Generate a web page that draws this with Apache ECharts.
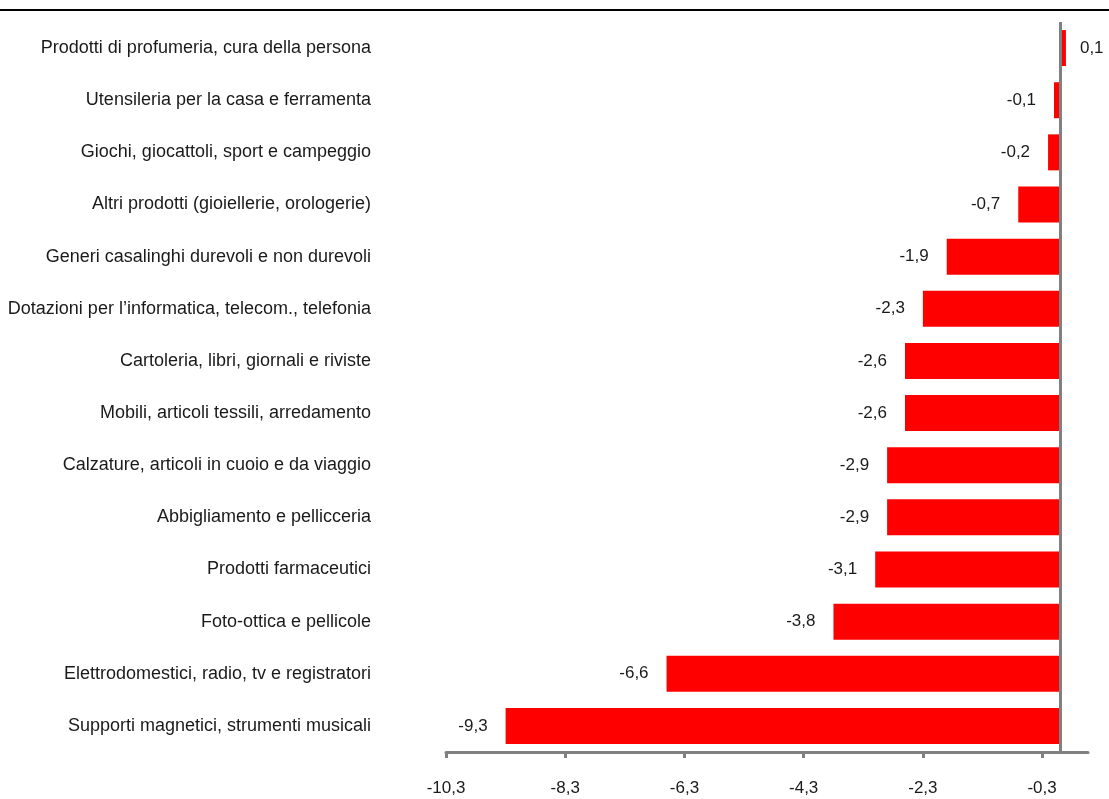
<!DOCTYPE html>
<html>
<head>
<meta charset="utf-8">
<script src="https://cdn.jsdelivr.net/npm/echarts@6/dist/echarts.min.js"></script>
<style>
html,body{margin:0;padding:0;background:#fff;}
#chart{width:1109px;height:799px;}
</style>
</head>
<body>
<div id="chart"></div>
<script>
const categories = [
  "Prodotti di profumeria, cura della persona",
  "Utensileria per la casa e ferramenta",
  "Giochi, giocattoli, sport e campeggio",
  "Altri prodotti (gioiellerie, orologerie)",
  "Generi casalinghi durevoli e non durevoli",
  "Dotazioni per l’informatica, telecom., telefonia",
  "Cartoleria, libri, giornali e riviste",
  "Mobili, articoli tessili, arredamento",
  "Calzature, articoli in cuoio e da viaggio",
  "Abbigliamento e pellicceria",
  "Prodotti farmaceutici",
  "Foto-ottica e pellicole",
  "Elettrodomestici, radio, tv e registratori",
  "Supporti magnetici, strumenti musicali"
];
const values = [0.1, -0.1, -0.2, -0.7, -1.9, -2.3, -2.6, -2.6, -2.9, -2.9, -3.1, -3.8, -6.6, -9.3];
const xTicks = [-10.3, -8.3, -6.3, -4.3, -2.3, -0.3];

const FONT = "'Liberation Sans Narrow', 'Arial Narrow', 'Liberation Sans', sans-serif";
const fmt = v => Number(v).toFixed(1).replace('.', ',');

const chart = echarts.init(document.getElementById('chart'));
chart.setOption({
  animation: false,
  backgroundColor: '#fff',
  grid: { left: 446, right: 21, top: 22, bottom: 47, containLabel: false },
  graphic: [{
    type: 'line',
    shape: { x1: 0, y1: 10, x2: 1109, y2: 10 },
    style: { stroke: '#000', lineWidth: 2 }
  }],
  xAxis: {
    type: 'value',
    min: -10.3,
    max: 0.47,
    interval: 2,
    splitLine: { show: false },
    axisLine: { show: true, onZero: false, lineStyle: { color: '#808080', width: 3 } },
    axisTick: { show: true, customValues: xTicks, length: 6, lineStyle: { color: '#808080', width: 3 } },
    axisLabel: {
      customValues: xTicks,
      formatter: fmt,
      margin: 28,
      fontFamily: FONT,
      fontSize: 17,
      color: '#1a1a1a'
    }
  },
  yAxis: {
    type: 'category',
    data: categories,
    inverse: true,
    axisLine: { show: false, onZero: false },
    axisTick: { show: false },
    axisLabel: {
      margin: 75,
      fontFamily: FONT,
      fontSize: 18,
      color: '#1a1a1a'
    }
  },
  series: [{
    type: 'bar',
    data: values.map(v => ({
      value: v,
      label: { position: v < 0 ? 'left' : 'right', distance: v < 0 ? 18 : 14 }
    })),
    barWidth: 36,
    itemStyle: { color: '#ff0000' },
    label: {
      show: true,
      formatter: p => fmt(p.value),
      fontFamily: FONT,
      fontSize: 17,
      color: '#1a1a1a'
    },
    markLine: {
      silent: true,
      symbol: 'none',
      label: { show: false },
      lineStyle: { color: '#808080', width: 3, type: 'solid' },
      data: [{ xAxis: 0 }]
    }
  }]
});
</script>
</body>
</html>
